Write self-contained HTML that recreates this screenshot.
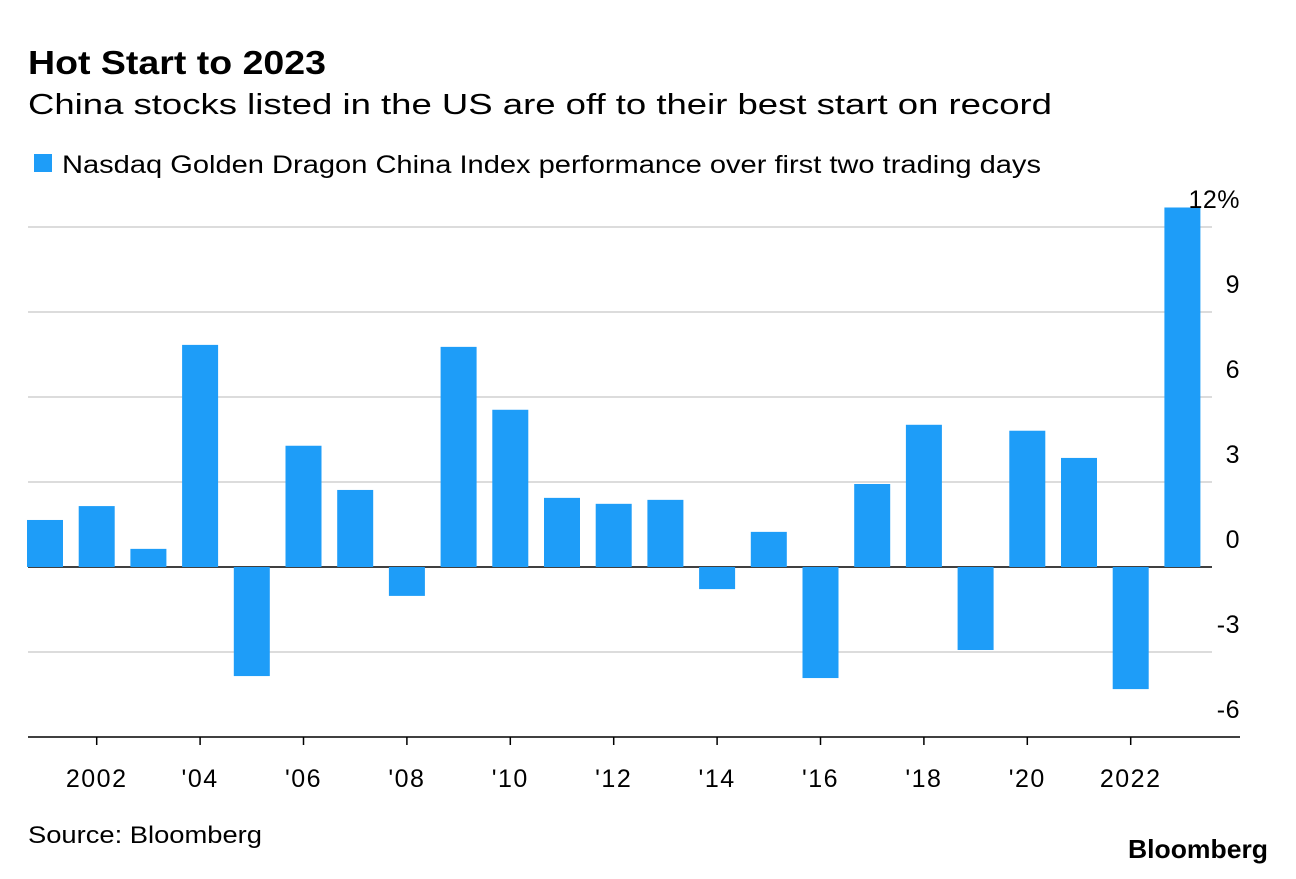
<!DOCTYPE html>
<html><head><meta charset="utf-8"><style>
body{margin:0;background:#fff;font-family:"Liberation Sans",sans-serif;}
</style></head><body>
<svg width="1296" height="874" xmlns="http://www.w3.org/2000/svg" font-family="Liberation Sans, sans-serif">
<rect width="1296" height="874" fill="#fff"/>
<text x="28" y="74" font-size="33" font-weight="bold" fill="#000" textLength="298" lengthAdjust="spacingAndGlyphs">Hot Start to 2023</text>
<text x="28" y="114" font-size="29" fill="#000" textLength="1024" lengthAdjust="spacingAndGlyphs">China stocks listed in the US are off to their best start on record</text>
<rect x="34" y="154" width="18" height="18" fill="#1e9df8"/>
<text x="62" y="173" font-size="25" fill="#000" textLength="979" lengthAdjust="spacingAndGlyphs">Nasdaq Golden Dragon China Index performance over first two trading days</text>
<g id="grid"></g><g id="bars"></g><g id="axes"></g>
<text x="28" y="843" font-size="24" fill="#000" textLength="234" lengthAdjust="spacingAndGlyphs">Source: Bloomberg</text>
<text x="1128" y="858" font-size="26" font-weight="bold" fill="#000" textLength="140" lengthAdjust="spacingAndGlyphs">Bloomberg</text>
</svg>
<script>
const years=[2001,2002,2003,2004,2005,2006,2007,2008,2009,2010,2011,2012,2013,2014,2015,2016,2017,2018,2019,2020,2021,2022,2023];
const values=[1.66,2.15,0.64,7.84,-3.85,4.28,2.72,-1.02,7.77,5.55,2.44,2.23,2.37,-0.78,1.24,-3.92,2.93,5.02,-2.93,4.81,3.85,-4.31,12.69];
const yTicks=[12,9,6,3,0,-3,-6];
const yTickLabels=["12%","9","6","3","0","-3","-6"];
const xTickYears=[2002,2004,2006,2008,2010,2012,2014,2016,2018,2020,2022];
const xTickLabels=["2002","'04","'06","'08","'10","'12","'14","'16","'18","'20","2022"];
const NS="http://www.w3.org/2000/svg";
const y=v=>567-v*28.33;
const x=yr=>45+(yr-2001)*51.7;
function mk(t,a,p){const e=document.createElementNS(NS,t);for(const k in a)e.setAttribute(k,a[k]);document.getElementById(p).appendChild(e);return e;}
yTicks.forEach((v,i)=>{
 if(v!==-6){const g=mk('line',{x1:28,x2:1212,y1:y(v),y2:y(v),stroke:v===0?'#000':'#dcdcdc','stroke-width':v===0?1.5:2},'grid');
 
 }
 const t=mk('text',{x:1240,y:y(v)-19,'font-size':25,'text-anchor':'end',fill:'#000','letter-spacing':0.5},'axes');
 t.textContent=yTickLabels[i];
 
 
});
values.forEach((v,i)=>{
 const r=mk('rect',{x:x(years[i])-18,width:36,y:Math.min(y(v),y(0)),height:Math.abs(y(v)-y(0)),fill:'#1e9df8'},'bars');
 
 
});
const ax=mk('line',{x1:28,x2:1240,y1:737,y2:737,stroke:'#000','stroke-width':1.5},'axes');


xTickYears.forEach((yr,i)=>{
 const tk=mk('line',{x1:x(yr),x2:x(yr),y1:737,y2:745,stroke:'#000','stroke-width':1.5},'axes');
 
 
 const t=mk('text',{x:x(yr),y:787,'font-size':25,'text-anchor':'middle',fill:'#000','letter-spacing':1.5},'axes');
 t.textContent=xTickLabels[i];
 
 
});
</script>
</body></html>
